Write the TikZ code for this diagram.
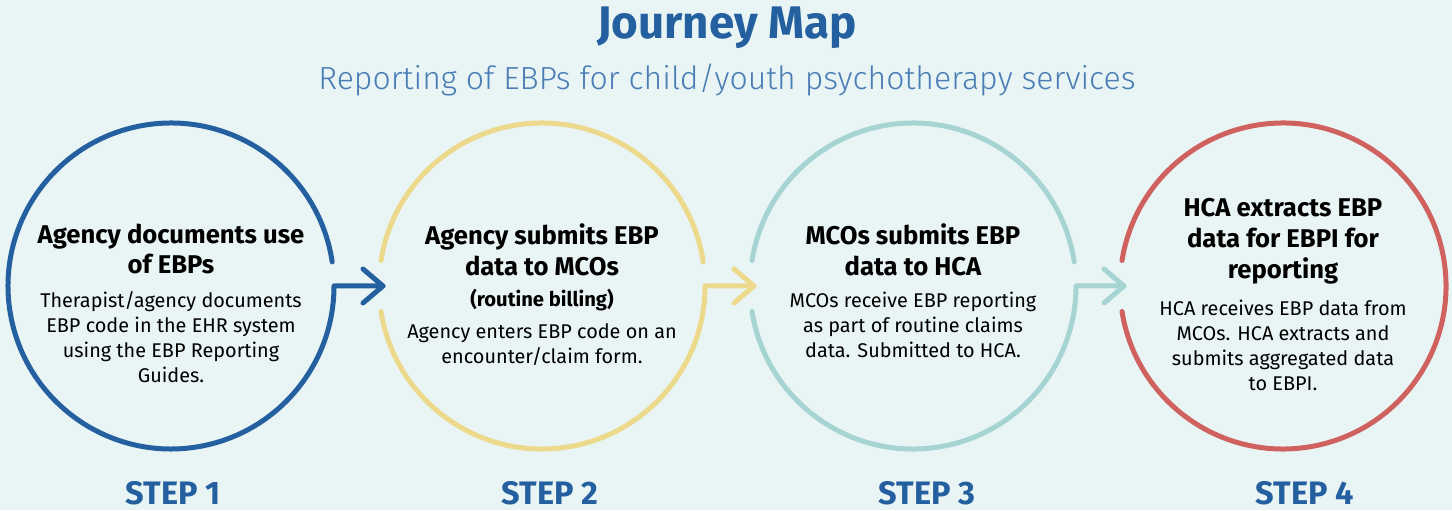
\documentclass[tikz,border=0pt]{standalone}
\usepackage{fontspec}
\setmainfont{Fira Sans}
\newfontfamily\lightfont{Fira Sans Light}
\usetikzlibrary{calc,arrows.meta}

\definecolor{jbg}{HTML}{E9F5F5}
\definecolor{jblue}{HTML}{245F9F}
\definecolor{jsub}{HTML}{4A7DB5}
\definecolor{jyellow}{HTML}{EDD98C}
\definecolor{jteal}{HTML}{A5D4D3}
\definecolor{jred}{HTML}{CF625E}

\begin{document}
\begin{tikzpicture}[x=0.02cm,y=0.02cm,
  ring/.style={line width=0.1cm,line cap=round,line join=round},
  head/.style={font=\bfseries\fontsize{14.6}{17.5}\selectfont,align=center,inner sep=0pt},
  body/.style={font=\fontsize{11.3}{14.2}\selectfont,align=center,inner sep=0pt},
  steplabel/.style={font=\bfseries\fontsize{18.5}{22}\selectfont,text=jblue,inner sep=0pt}]
 \fill[jbg] (0,0) rectangle (1452,510); %background
 \useasboundingbox (0,0) rectangle (1452,510);

 \node[font=\bfseries\fontsize{26}{30}\selectfont,text=jblue] (title) at (727,482) {Journey Map};
 \node[font=\lightfont\fontsize{18.2}{22}\selectfont,text=jsub] (subtitle) at (727,430)
   {Reporting of EBPs for child/youth psychotherapy services};

 \coordinate (c1) at (171,224); %circle centres
 \coordinate (c2) at (542,224);
 \coordinate (c3) at (913,224);
 \coordinate (c4) at (1283,224);
 \coordinate (t1) at ($(c2)+(-159,0)$); %arrow tips
 \coordinate (t2) at ($(c3)+(-159,0)$);
 \coordinate (t3) at ($(c4)+(-159,0)$);

 %step 1
 \draw[ring,jblue] ($(c1)+(8.5:163)$) arc[start angle=8.5,end angle=360,radius=163] -- (t1);
 \draw[ring,jblue] (t1) ++(-20,17) -- (t1) -- ++(-20,-17);
 %step 2
 \draw[ring,jyellow] ($(c2)+(8.5:163)$) arc[start angle=8.5,end angle=171,radius=163];
 \draw[ring,jyellow] ($(c2)+(189:163)$) arc[start angle=189,end angle=360,radius=163] -- (t2);
 \draw[ring,jyellow] (t2) ++(-20,17) -- (t2) -- ++(-20,-17);
 %step 3
 \draw[ring,jteal] ($(c3)+(8.5:163)$) arc[start angle=8.5,end angle=171,radius=163];
 \draw[ring,jteal] ($(c3)+(189:163)$) arc[start angle=189,end angle=360,radius=163] -- (t3);
 \draw[ring,jteal] (t3) ++(-20,17) -- (t3) -- ++(-20,-17);
 %step 4
 \draw[ring,jred] ($(c4)+(189:163)$) arc[start angle=189,end angle=531,radius=163];

 \node[head] (h1) at (171,261) {Agency documents use\\of EBPs};
 \node[body] (b1) at (171,172.5) {Therapist/agency documents\\EBP code in the EHR system\\using the EBP Reporting\\Guides.};
 \node[head] (h2) at (542,260) {Agency submits EBP\\data to MCOs};
 \node[head,font=\bfseries\fontsize{11.5}{14}\selectfont] (r2) at (542,210) {(routine billing)};
 \node[body] (b2) at (542,165.5) {Agency enters EBP code on an\\encounter/claim form.};
 \node[head] (h3) at (913,260) {MCOs submits EBP\\data to HCA};
 \node[body] (b3) at (913,185) {MCOs receive EBP reporting\\as part of routine claims\\data. Submitted to HCA.};
 \node[head] (h4) at (1283,269) {HCA extracts EBP\\data for EBPI for\\reporting};
 \node[body] (b4) at (1283,165) {HCA receives EBP data from\\MCOs. HCA extracts and\\submits aggregated data\\to EBPI.};

 \node[steplabel] (s1) at (173,17) {STEP 1};
 \node[steplabel] (s2) at (550,17) {STEP 2};
 \node[steplabel] (s3) at (927,17) {STEP 3};
 \node[steplabel] (s4) at (1305,17) {STEP 4};
\end{tikzpicture}
\end{document}
